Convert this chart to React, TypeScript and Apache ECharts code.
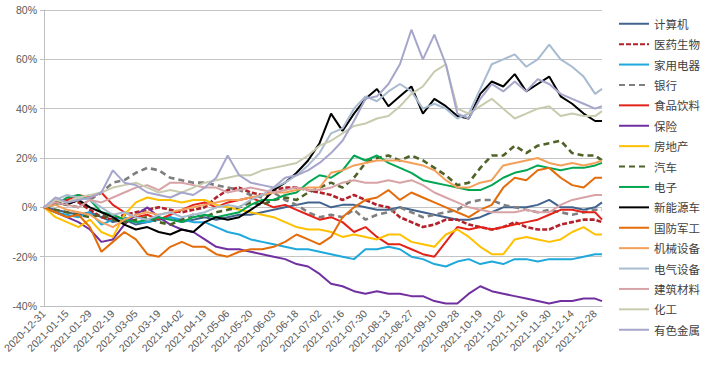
import React, { useEffect, useRef } from 'react';
import * as echarts from 'echarts';

// x-axis tick labels, one per 10 trading days
const tickLabels = [
  '2020-12-31', '2021-01-15', '2021-01-29', '2021-02-19', '2021-03-05', '2021-03-19',
  '2021-04-02', '2021-04-19', '2021-05-06', '2021-05-20', '2021-06-03', '2021-06-18',
  '2021-07-02', '2021-07-16', '2021-07-30', '2021-08-13', '2021-08-27', '2021-09-10',
  '2021-09-28', '2021-10-19', '2021-11-02', '2021-11-16', '2021-11-30', '2021-12-14',
  '2021-12-28',
];

// trading-day index of each sampled value (weekly samples)
const sampleDays = [
  0, 5, 10, 15, 20, 25, 30, 35, 40, 45, 50, 55, 60, 65, 70, 75, 80, 85, 90, 95,
  100, 105, 110, 115, 120, 125, 130, 135, 140, 145, 150, 155, 160, 165, 170, 175, 180, 185, 190, 195,
  200, 205, 210, 215, 220, 225, 230, 235, 240, 243,
];

// cumulative returns (%)
const computer = [0,-1,-2,-3,-2,-4,-6,-5,-7,-6, -5,-4,-6,-5,-4,-5,-4,-3,-3,-2, -1,0,1,2,2,0,1,1,0,-1, -1,0,-1,-2,-3,-4,-5,-5,-4,-2, 0,0,0,1,3,0,0,-1,0,2];
const pharma = [0,2,3,2,-1,-4,-5,-3,-2,-1, 0,-1,-2,-1,0,4,7,8,6,5, 7,8,8,7,6,5,3,5,3,1, 0,-4,-6,-8,-7,-5,-5,-7,-8,-9, -8,-6,-8,-9,-9,-7,-6,-5,-5,-6];
const appliance = [0,-2,-3,-4,-2,-7,-5,-4,-6,-6, -5,-4,-5,-6,-6,-8,-10,-11,-13,-14, -15,-16,-17,-17,-18,-19,-20,-21,-17,-17, -16,-17,-20,-21,-23,-24,-22,-21,-23,-22, -23,-21,-21,-22,-21,-21,-21,-20,-19,-19];
const bank = [0,2,1,0,3,6,10,11,14,16, 15,12,11,10,10,9,8,7,5,4, 6,3,1,-2,-4,-3,-4,-1,-5,-3, -2,0,-2,-4,-3,-2,-1,2,3,3, 1,0,-1,-2,-1,-2,-3,-2,-1,-1];
const food = [0,2,3,5,4,6,1,-2,-4,-3, -5,-3,-1,1,2,0,2,3,4,2, 0,1,-1,-3,-5,-4,-6,-10,-8,-12, -15,-15,-17,-19,-20,-14,-8,-9,-8,-9, -8,-7,-6,-5,-3,-1,-1,-2,-2,-5];
const insurance = [0,-2,-4,-6,-9,-14,-13,-7,-3,0, -4,-7,-9,-10,-13,-16,-17,-17,-18,-19, -20,-21,-23,-24,-27,-31,-32,-34,-35,-34, -35,-35,-36,-36,-38,-39,-39,-35,-32,-34, -35,-36,-37,-38,-39,-38,-38,-37,-37,-38];
const realEstate = [0,-4,-6,-8,-5,-10,-12,-3,2,4, 3,3,2,3,3,1,0,-1,-2,-3, -4,-6,-8,-9,-9,-10,-12,-11,-12,-13, -11,-11,-14,-15,-16,-11,-9,-12,-16,-19, -19,-13,-12,-13,-14,-13,-10,-8,-11,-11];
const auto = [0,-1,-2,-3,-4,-3,-5,-6,-5,-4, -6,-7,-5,-3,-4,-2,-1,0,2,1, 3,4,3,6,8,10,8,12,18,20, 21,19,21,19,16,13,9,10,16,21, 21,25,22,25,26,27,22,21,21,19];
const electronics = [0,1,4,5,3,-2,-3,-5,-6,-5, -4,-5,-6,-4,-3,-4,-3,-2,1,3, 3,5,6,10,13,12,15,21,19,21, 18,16,14,11,10,9,8,7,7,9, 12,14,15,17,16,15,16,16,17,18];
const nev = [0,2,1,3,0,-2,-4,-7,-9,-8, -10,-11,-9,-10,-6,-4,-5,-4,-1,2, 7,10,14,19,26,38,31,38,44,48, 41,45,49,38,44,41,37,36,46,51, 49,54,47,50,53,45,42,38,35,35];
const defense = [0,-2,-4,-3,-8,-18,-14,-10,-13,-19, -20,-16,-14,-16,-16,-19,-20,-18,-17,-17, -16,-14,-11,-13,-15,-12,-4,0,3,4, 7,3,6,4,2,0,-2,-4,-1,1, 8,12,11,15,16,12,9,8,12,12];
const machinery = [0,1,-1,-2,-3,-6,-8,-5,-3,-2, -3,-2,-1,0,1,2,3,3,4,5, 6,6,7,8,8,14,15,17,18,19, 19,19,18,17,15,11,8,8,10,11, 17,18,19,20,18,17,18,17,18,19];
const electrical = [0,3,5,4,3,0,-3,-2,-4,-5, -3,-2,-4,-3,-2,0,1,0,3,5, 8,10,13,17,22,30,32,40,45,43, 47,50,47,40,42,40,36,38,48,58, 60,62,57,60,66,60,57,53,46,48];
const building = [0,2,1,0,3,2,4,6,8,9, 7,10,10,9,8,8,6,7,8,7, 6,7,8,7,7,8,10,11,10,10, 11,10,11,9,6,4,2,0,-1,-2, -2,-2,-1,-2,-2,1,3,4,5,5];
const chemical = [0,3,2,4,5,6,8,9,10,8, 6,7,6,8,10,11,12,13,13,15, 16,17,18,21,25,27,30,33,34,36, 37,41,46,49,55,58,40,38,41,44, 40,36,38,40,41,37,38,37,37,39];
const metals = [0,4,2,3,4,6,15,10,9,6, 5,4,6,5,8,12,21,13,10,9, 8,12,13,15,18,22,27,35,44,45, 50,58,72,60,70,58,38,36,44,50, 47,51,47,52,50,46,44,42,40,41];

const seriesNames = ['计算机', '医药生物', '家用电器', '银行', '食品饮料', '保险', '房地产', '汽车', '电子', '新能源车', '国防军工', '机械设备', '电气设备', '建筑材料', '化工', '有色金属'];
const seriesValues = [computer, pharma, appliance, bank, food, insurance, realEstate, auto, electronics, nev, defense, machinery, electrical, building, chemical, metals];
const seriesColors = ['#41648f', '#b3222a', '#1fa8dc', '#7f7f7f', '#e2231a', '#7030a0', '#ffc000', '#4f6228', '#00a651', '#000000', '#e46c0a', '#f5a05a', '#a8bbd0', '#d7a3a6', '#c8cbae', '#a6a6cc'];
const seriesDash: (number[] | 'solid')[] = ['solid', [5, 2], 'solid', [6, 4], 'solid', 'solid', 'solid', [6, 4], 'solid', 'solid', 'solid', 'solid', 'solid', 'solid', 'solid', 'solid'];

export default function App() {
  const ref = useRef<HTMLDivElement>(null);
  useEffect(() => {
    if (!ref.current) return;
    const chart = echarts.init(ref.current, null, { renderer: 'svg' });
    const series = seriesNames.map((name, si) => ({
      name,
      type: 'line',
      symbol: 'none',
      showSymbol: false,
      data: seriesValues[si].map((v, i) => [sampleDays[i], v]),
      lineStyle: {
        color: seriesColors[si],
        width: seriesDash[si] === 'solid' ? 2 : 2.6,
        type: seriesDash[si],
      },
      itemStyle: { color: seriesColors[si] },
      emphasis: { disabled: true },
    }));
    chart.setOption({
      animation: false,
      backgroundColor: '#ffffff',
      grid: { left: 44, right: 105, top: 10, bottom: 60 },
      legend: {
        orient: 'vertical',
        left: 613,
        top: 13,
        itemWidth: 30,
        itemHeight: 14,
        itemGap: 8.9,
        itemStyle: { opacity: 0, borderWidth: 0 },
        textStyle: { fontSize: 11.5, color: '#404040', fontFamily: 'Noto Sans CJK SC' },
        data: seriesNames,
      },
      xAxis: {
        type: 'value',
        min: 0,
        max: 243,
        interval: 10,
        axisLine: { show: true, onZero: false, lineStyle: { color: '#bfbfbf' } },
        axisTick: { show: false },
        splitLine: { show: false },
        axisLabel: {
          rotate: 45,
          margin: 6,
          fontSize: 10.5,
          color: '#595959',
          fontFamily: 'Liberation Sans',
          showMaxLabel: false,
          formatter: (v: number) => (v % 10 === 0 && tickLabels[v / 10]) || '',
        },
      },
      yAxis: {
        type: 'value',
        min: -40,
        max: 80,
        interval: 20,
        axisLine: { show: true, onZero: false, lineStyle: { color: '#bfbfbf' } },
        axisTick: { show: true, length: 4, lineStyle: { color: '#bfbfbf' } },
        splitLine: { show: true, lineStyle: { color: '#c4c4c4', width: 1 } },
        axisLabel: { formatter: '{value}%', fontSize: 10.5, color: '#595959', fontFamily: 'Liberation Sans', margin: 7 },
      },
      series,
    });
    return () => chart.dispose();
  }, []);
  return <div ref={ref} style={{ position: 'fixed', left: 0, top: 0, width: 707, height: 366 }} />;
}
